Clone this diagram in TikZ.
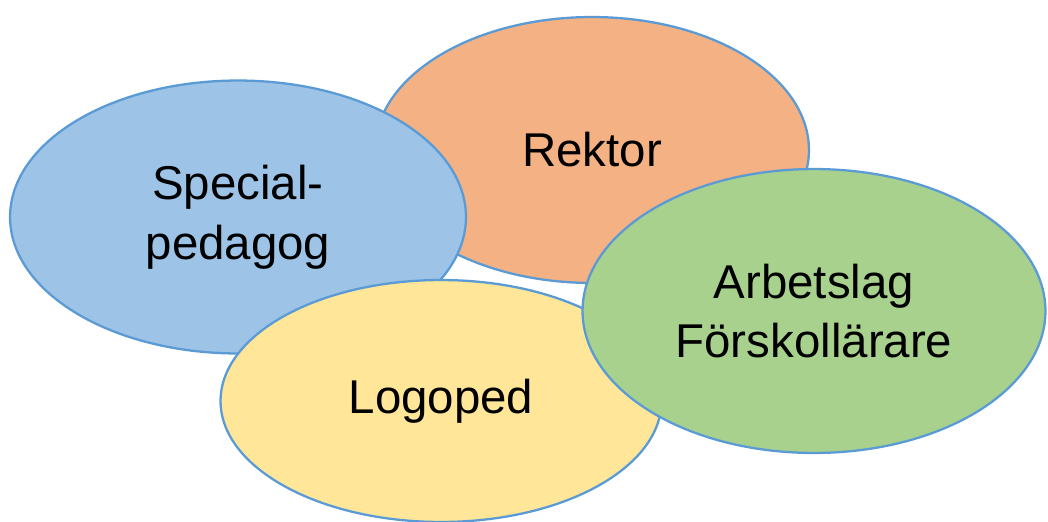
\documentclass[tikz,border=0pt]{standalone}
\usepackage{fontspec}
\setmainfont{Liberation Sans}
\usepackage{tikz}
\usetikzlibrary{shapes.geometric}
\definecolor{rim}{HTML}{5B9BD5}
\definecolor{rektorfill}{HTML}{F4B183}
\definecolor{specfill}{HTML}{9DC3E6}
\definecolor{logofill}{HTML}{FFE699}
\definecolor{arbfill}{HTML}{A9D18E}

\begin{document}
\begin{tikzpicture}[x=0.02cm,y=-0.02cm,
		bubble/.style={ellipse,draw=rim,line width=1.3pt,inner sep=0pt,align=center,
			font=\fontsize{27}{34}\selectfont}]
				\useasboundingbox (0,0) rectangle (1048,521);
				\node[bubble,fill=rektorfill,minimum width=8.68cm,minimum height=5.32cm] (rektor) at (592,150) {Rektor};
				\node[bubble,fill=specfill,minimum width=9.12cm,minimum height=5.46cm] (spec) at (238,217) {Special-\\pedagog};
				\node[bubble,fill=logofill,minimum width=8.82cm,minimum height=4.84cm] (logo) at (441,401) {Logoped};
				\node[bubble,fill=arbfill,minimum width=9.26cm,minimum height=5.68cm] (arb) at (814,311) {Arbetslag\\Förskollärare};
			\end{tikzpicture}
\end{document}
